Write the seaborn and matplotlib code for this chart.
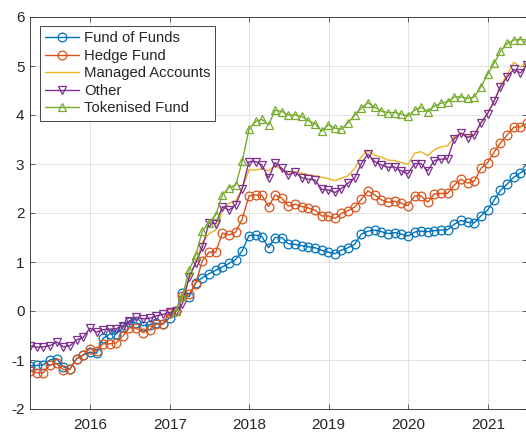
import pandas as pd
import seaborn as sns
import matplotlib.pyplot as plt
import matplotlib.dates as mdates

# monthly (month-end) dates, Mar 2015 - Jun 2021
dates = pd.date_range('2015-04-01', periods=76, freq='MS') - pd.Timedelta(days=1)

fund_of_funds = [-1.12, -1.11, -1.10, -1.00, -0.97, -1.14, -1.19, -0.97, -0.90,
                 -0.84, -0.86, -0.56, -0.47, -0.47, -0.33, -0.22, -0.24, -0.30, -0.28, -0.25, -0.27, -0.14,
                 0.00, 0.37, 0.29, 0.58, 0.68, 0.76, 0.83, 0.90, 0.97, 1.05, 1.23,
                 1.54, 1.55, 1.52, 1.29, 1.50, 1.50, 1.37, 1.36, 1.33, 1.31, 1.29, 1.24,
                 1.20, 1.17, 1.24, 1.29, 1.36, 1.57, 1.63, 1.65, 1.62, 1.58, 1.60, 1.57,
                 1.53, 1.61, 1.63, 1.62, 1.64, 1.65, 1.66, 1.77, 1.85, 1.81, 1.80, 1.94,
                 2.06, 2.27, 2.46, 2.59, 2.73, 2.82, 2.90]

hedge_fund = [-1.22, -1.26, -1.26, -1.10, -1.07, -1.20, -1.19, -0.97, -0.90,
              -0.77, -0.81, -0.67, -0.67, -0.65, -0.51, -0.34, -0.35, -0.44, -0.38, -0.27, -0.26, -0.05,
              0.00, 0.30, 0.34, 0.56, 1.03, 1.20, 1.20, 1.59, 1.55, 1.61, 1.88,
              2.35, 2.37, 2.36, 2.13, 2.37, 2.30, 2.14, 2.18, 2.13, 2.10, 2.06, 1.94,
              1.94, 1.89, 1.99, 2.05, 2.12, 2.28, 2.45, 2.37, 2.27, 2.22, 2.24, 2.20,
              2.15, 2.35, 2.35, 2.22, 2.39, 2.40, 2.40, 2.57, 2.69, 2.61, 2.65, 2.91,
              3.03, 3.25, 3.43, 3.59, 3.75, 3.76, 3.83]

# Managed Accounts and Tokenised Fund start in Feb 2017
managed_accounts = [0.00, 0.25, 0.65, 1.00, 1.40, 1.58, 1.65, 2.05, 2.20, 2.25, 2.50,
                    2.88, 2.88, 2.90, 2.86, 2.97, 2.88, 2.84, 2.84, 2.81, 2.78, 2.76, 2.73,
                    2.70, 2.66, 2.71, 2.76, 2.91, 3.15, 3.27, 3.18, 3.14, 3.08, 3.07, 3.03,
                    2.99, 3.22, 3.25, 3.17, 3.29, 3.35, 3.37, 3.56, 3.63, 3.56, 3.60, 3.84,
                    4.03, 4.30, 4.60, 4.82, 5.08, 4.98, 5.07]

other = [-0.71, -0.74, -0.73, -0.71, -0.63, -0.73, -0.71, -0.59, -0.54,
         -0.35, -0.43, -0.38, -0.37, -0.36, -0.30, -0.20, -0.13, -0.16, -0.15, -0.10, -0.07, -0.03,
         0.00, 0.15, 0.70, 0.98, 1.30, 1.80, 1.78, 2.13, 2.06, 2.16, 2.50,
         3.05, 3.05, 2.98, 2.71, 3.03, 2.91, 2.78, 2.83, 2.72, 2.69, 2.67, 2.48,
         2.47, 2.42, 2.50, 2.61, 2.71, 3.01, 3.20, 3.05, 2.98, 2.93, 2.94, 2.86,
         2.80, 3.01, 3.01, 2.86, 3.07, 3.10, 3.10, 3.52, 3.63, 3.54, 3.59, 3.84,
         4.03, 4.29, 4.57, 4.78, 4.93, 4.86, 5.02]

tokenised_fund = [0.00, 0.30, 0.83, 1.14, 1.63, 1.80, 1.96, 2.37, 2.52, 2.57, 3.06,
                  3.71, 3.87, 3.91, 3.80, 4.10, 4.07, 4.00, 4.00, 3.97, 3.88, 3.82, 3.67,
                  3.80, 3.73, 3.71, 3.84, 3.99, 4.14, 4.25, 4.16, 4.08, 4.05, 4.05, 4.02,
                  3.98, 4.10, 4.16, 4.07, 4.18, 4.24, 4.27, 4.37, 4.37, 4.34, 4.37, 4.57,
                  4.83, 5.06, 5.30, 5.46, 5.53, 5.54, 5.53]

series = [
    ('Fund of Funds', fund_of_funds, '#0072BD', 'o'),
    ('Hedge Fund', hedge_fund, '#D95319', 'o'),
    ('Managed Accounts', managed_accounts, '#EDB120', None),
    ('Other', other, '#7E2F8E', 'v'),
    ('Tokenised Fund', tokenised_fund, '#77AC30', '^'),
]

sns.set_style('ticks')
plt.rcParams['font.family'] = ['Liberation Sans', 'DejaVu Sans']
plt.rcParams['axes.unicode_minus'] = False

fig = plt.figure(figsize=(5.26, 4.32), dpi=100)
ax = fig.add_axes([30 / 526, 23 / 432, 497 / 526, 392 / 432])

for name, vals, col, mk in series:
    x = dates[-len(vals):]
    if mk is None:
        sns.lineplot(x=x, y=vals, ax=ax, color=col, linewidth=1.0, label=name)
    else:
        sns.lineplot(x=x, y=vals, ax=ax, color=col, linewidth=1.0, label=name,
                     marker=mk, markersize=6.3, markerfacecolor='none',
                     markeredgecolor=col, markeredgewidth=0.9)

ax.set_xlim(dates[0], dates[-1])
ax.set_ylim(-2, 6)
ax.set_yticks(range(-2, 7))
ax.xaxis.set_major_locator(mdates.YearLocator())
ax.xaxis.set_major_formatter(mdates.DateFormatter('%Y'))
ax.set_xlabel('')
ax.set_ylabel('')

ax.grid(True, color='#dedede', linewidth=0.6)
ax.set_axisbelow(True)
for s in ax.spines.values():
    s.set_visible(True)
    s.set_color('#262626')
    s.set_linewidth(0.6)
ax.tick_params(axis='both', direction='in', top=True, right=True, length=3.5,
               width=0.5, colors='#262626', labelsize=11)
ax.tick_params(axis='x', pad=6.5)
ax.tick_params(axis='y', pad=4)

leg = ax.legend(loc='upper left', bbox_to_anchor=(0.020, 0.977), borderaxespad=0,
                fontsize=10.7, fancybox=False, framealpha=1, edgecolor='#262626',
                handlelength=2.3, handletextpad=0.3, borderpad=0.35, labelspacing=0.24)
leg.get_frame().set_linewidth(0.6)

fig.savefig('out.png', dpi=100)
